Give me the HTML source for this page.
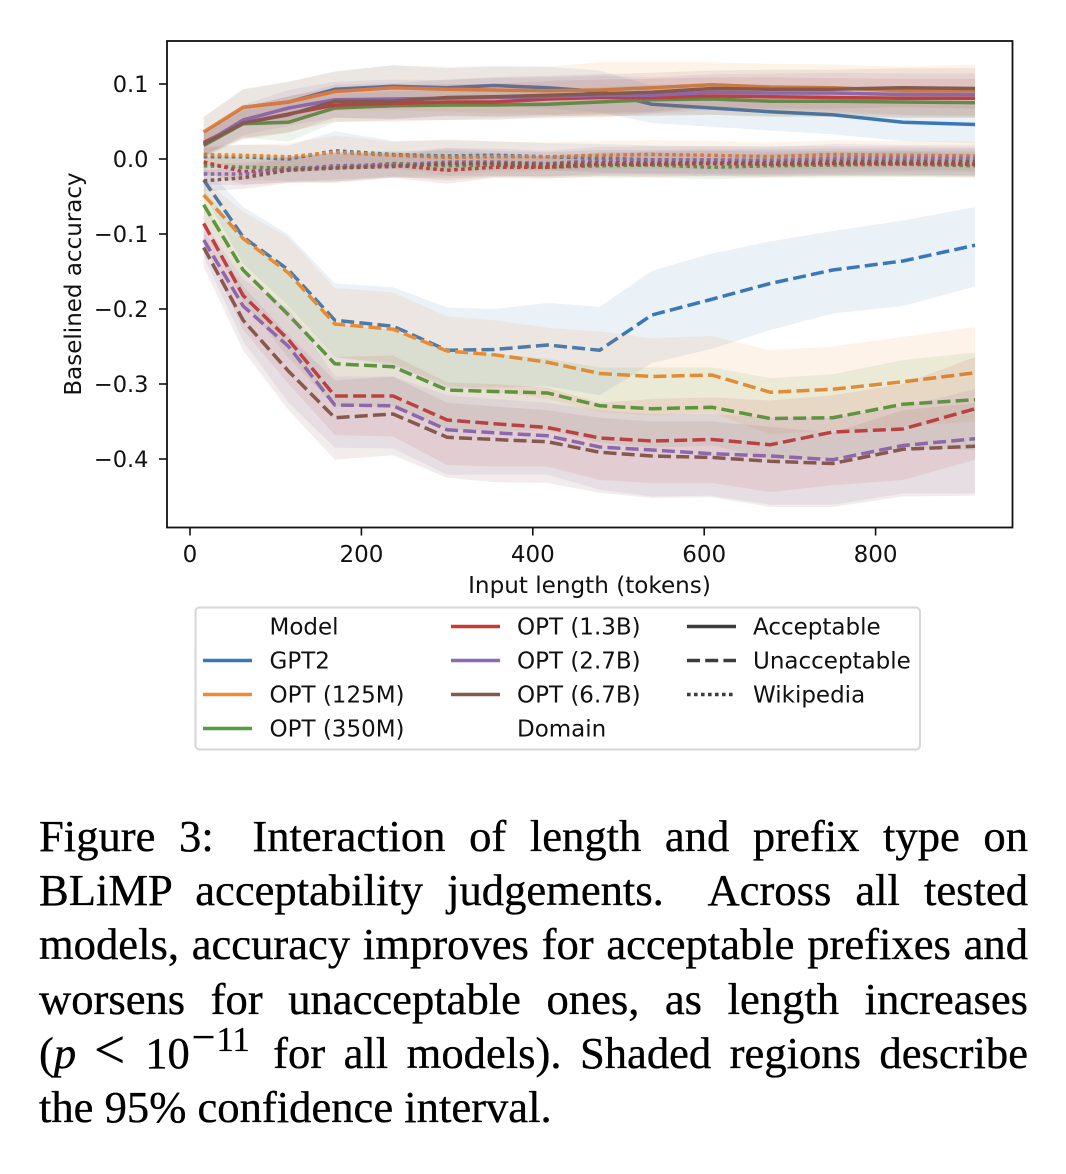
<!DOCTYPE html>
<html lang="en">
<head>
<meta charset="utf-8">
<title>Figure 3</title>
<style>
html,body{margin:0;padding:0;background:#fff;}
#page{position:relative;width:1066px;height:1174px;overflow:hidden;background:#fff;}
#chart{position:absolute;left:0;top:0;}
svg text{font-family:"DejaVu Sans","Liberation Sans",sans-serif;fill:#111;}
.cap{position:absolute;left:39px;width:989px;height:54px;line-height:54.2px;font-family:"Liberation Serif",serif;font-size:44.6px;color:#000;-webkit-text-stroke:0.35px #000;white-space:nowrap;text-align:justify;text-align-last:justify;}
.cap.last{text-align:left;text-align-last:left;}
.cap sup{font-size:34.5px;line-height:0;vertical-align:baseline;position:relative;top:-17px;margin-left:2px;margin-right:5px;}
.cap .minus{font-size:42px;letter-spacing:1px;}
.cap .lt{font-size:55px;line-height:0;margin:0 20px 0 18px;}
.cap .gap{display:inline-block;height:1px;}
</style>
</head>
<body>
<div id="page">
<svg id="chart" width="1066" height="790" viewBox="0 0 1066 790"></svg>
<div>
<div class="cap" style="top:809px">Figure 3:<span class="gap" style="width:15px"></span> Interaction of length and prefix type on</div>
<div class="cap" style="top:863.2px">BLiMP acceptability judgements.<span class="gap" style="width:22px"></span> Across all tested</div>
<div class="cap" style="top:917.4px">models, accuracy improves for acceptable prefixes and</div>
<div class="cap" style="top:971.6px">worsens for unacceptable ones, as length increases</div>
<div class="cap" style="top:1025.8px">(<i>p</i><span class="lt">&lt;</span>10<sup><span class="minus">&minus;</span>11</sup> for all models). Shaded regions describe</div>
<div class="cap last" style="top:1080px">the 95% confidence interval.</div>
</div>
</div>
<script>
const inputLengths = [16,62,115,169,237,300,355,417,478,539,609,677,750,832,916];
const xTickValues = [0,200,400,600,800];
const yTickValues = [0.1,0,-0.1,-0.2,-0.3,-0.4];
const yTickLabels = ['0.1','0.0','\u22120.1','\u22120.2','\u22120.3','\u22120.4'];
const xTickLabels = ['0','200','400','600','800'];
const modelNames = ['GPT2','OPT (125M)','OPT (350M)','OPT (1.3B)','OPT (2.7B)','OPT (6.7B)'];
const modelColors = ['#3a78b5','#f28a33','#50a03e','#c93a33','#9068b8','#85594d'];

const acceptGpt2 = [.036,.069,.076,.093,.097,.095,.098,.095,.090,.073,.068,.063,.059,.049,.046];
const acceptOpt125 = [.036,.069,.076,.090,.095,.093,.092,.091,.092,.095,.099,.096,.095,.091,.091];
const acceptOpt350 = [.018,.047,.049,.068,.071,.072,.072,.073,.076,.079,.080,.077,.077,.076,.075];
const acceptOpt13 = [.022,.048,.060,.072,.074,.076,.076,.080,.082,.082,.084,.083,.082,.081,.081];
const acceptOpt27 = [.020,.052,.068,.079,.080,.081,.082,.083,.085,.085,.089,.088,.088,.086,.086];
const acceptOpt67 = [.020,.048,.059,.077,.077,.082,.083,.085,.087,.089,.094,.093,.093,.095,.094];

const acceptCiGpt2 = [.020,.024,.027,.024,.028,.026,.026,.028,.028,.025,.025,.025,.026,.025,.025];
const acceptCiOpt125 = [.020,.024,.027,.026,.030,.030,.031,.032,.037,.034,.030,.031,.031,.032,.035];
const acceptCiOpt350 = [.015,.018,.026,.019,.019,.020,.018,.019,.020,.020,.021,.021,.020,.021,.020];
const acceptCiOpt13 = [.016,.020,.024,.022,.024,.024,.024,.024,.024,.025,.025,.026,.026,.026,.026];
const acceptCiOpt27 = [.017,.020,.024,.024,.026,.024,.026,.026,.026,.024,.024,.026,.027,.028,.028];
const acceptCiOpt67 = [.017,.022,.024,.022,.024,.024,.026,.026,.026,.026,.024,.026,.026,.026,.027];

const unacceptGpt2 = [-.028,-.104,-.148,-.215,-.223,-.255,-.254,-.248,-.255,-.208,-.187,-.166,-.148,-.136,-.115];
const unacceptOpt125 = [-.048,-.106,-.152,-.220,-.227,-.256,-.261,-.271,-.286,-.290,-.288,-.311,-.307,-.297,-.285];
const unacceptOpt350 = [-.061,-.148,-.208,-.273,-.277,-.308,-.310,-.312,-.329,-.333,-.331,-.346,-.345,-.327,-.321];
const unacceptOpt13 = [-.086,-.182,-.241,-.316,-.316,-.348,-.353,-.358,-.372,-.376,-.374,-.381,-.364,-.360,-.333];
const unacceptOpt27 = [-.108,-.196,-.250,-.328,-.329,-.361,-.365,-.369,-.384,-.388,-.393,-.396,-.401,-.382,-.373];
const unacceptOpt67 = [-.118,-.215,-.283,-.345,-.340,-.371,-.374,-.377,-.391,-.396,-.398,-.403,-.406,-.387,-.383];

const unacceptHiGpt2 = [-.010,-.064,-.101,-.166,-.171,-.198,-.200,-.192,-.197,-.149,-.126,-.110,-.096,-.082,-.064];
const unacceptLoGpt2 = [-.047,-.140,-.196,-.264,-.275,-.305,-.305,-.303,-.315,-.272,-.253,-.228,-.206,-.196,-.170];
const unacceptHiOpt125 = [-.028,-.070,-.105,-.172,-.178,-.210,-.215,-.225,-.230,-.239,-.236,-.255,-.250,-.237,-.224];
const unacceptLoOpt125 = [-.068,-.145,-.200,-.264,-.272,-.302,-.310,-.320,-.337,-.342,-.338,-.367,-.362,-.357,-.350];
const unacceptHiOpt350 = [-.040,-.106,-.152,-.220,-.228,-.256,-.260,-.266,-.278,-.278,-.278,-.292,-.287,-.268,-.258];
const unacceptLoOpt350 = [-.085,-.190,-.265,-.330,-.330,-.360,-.362,-.362,-.378,-.385,-.382,-.400,-.400,-.385,-.388];
const unacceptHiOpt13 = [-.060,-.145,-.200,-.264,-.262,-.298,-.300,-.305,-.325,-.320,-.318,-.322,-.315,-.300,-.264];
const unacceptLoOpt13 = [-.112,-.228,-.300,-.368,-.370,-.408,-.410,-.410,-.428,-.432,-.432,-.444,-.435,-.428,-.401];
const unacceptHiOpt27 = [-.085,-.160,-.200,-.290,-.290,-.315,-.320,-.325,-.335,-.340,-.340,-.345,-.345,-.330,-.307];
const unacceptLoOpt27 = [-.130,-.243,-.325,-.385,-.386,-.421,-.421,-.421,-.441,-.450,-.449,-.461,-.461,-.446,-.446];
const unacceptHiOpt67 = [-.095,-.170,-.235,-.295,-.290,-.325,-.330,-.335,-.345,-.350,-.350,-.357,-.365,-.335,-.325];
const unacceptLoOpt67 = [-.144,-.255,-.335,-.401,-.395,-.425,-.431,-.432,-.445,-.452,-.451,-.464,-.464,-.450,-.449];

const wikiGpt2 = [.003,.003,.000,.011,.006,.004,.005,.003,.001,-.001,-.002,-.002,-.002,-.002,-.003];
const wikiOpt125 = [.006,.005,.003,.009,.005,.002,.003,.003,.005,.006,.005,.003,.006,.005,.004];
const wikiOpt350 = [-.009,-.011,-.012,-.011,-.006,-.009,-.008,-.011,-.009,-.008,-.011,-.009,-.008,-.007,-.009];
const wikiOpt13 = [-.004,-.017,-.014,-.012,-.008,-.015,-.011,-.011,-.007,-.007,-.006,-.007,-.006,-.006,-.007];
const wikiOpt27 = [-.020,-.020,-.014,-.009,-.008,-.004,-.004,-.006,-.002,-.001,-.001,-.002,.001,.001,.001];
const wikiOpt67 = [-.029,-.025,-.015,-.012,-.010,-.006,-.006,-.007,-.005,-.005,-.005,-.005,-.004,-.004,-.004];

const wikiCiGpt2 = [.012,.016,.018,.026,.018,.021,.019,.018,.019,.019,.019,.019,.019,.019,.019];
const wikiCiOpt125 = [.012,.014,.018,.022,.018,.024,.020,.019,.019,.019,.019,.019,.019,.019,.019];
const wikiCiOpt350 = [.012,.017,.017,.019,.017,.020,.016,.014,.016,.017,.016,.016,.017,.017,.016];
const wikiCiOpt13 = [.014,.017,.017,.018,.017,.018,.014,.015,.016,.017,.017,.017,.017,.017,.017];
const wikiCiOpt27 = [.014,.015,.017,.018,.016,.019,.018,.017,.018,.018,.018,.018,.019,.018,.018];
const wikiCiOpt67 = [.014,.015,.017,.020,.015,.020,.017,.016,.017,.017,.018,.018,.018,.018,.018];

const legendStyles = ['Acceptable','Unacceptable','Wikipedia'];

const SVG_NS = 'http://www.w3.org/2000/svg';
const chart = document.getElementById('chart');
const frame = {left:167, right:1012.5, top:41, bottom:527.5};
const DASHED = '13 5.2';
const DOTTED = '3.6 3.4';

function xScale(v){ return 190 + v * 0.857; }
function yScale(v){ return 159 - v * 750; }
function make(tag, attrs, parent){
  const el = document.createElementNS(SVG_NS, tag);
  for (const k in attrs) el.setAttribute(k, attrs[k]);
  (parent || chart).appendChild(el);
  return el;
}
function lineD(values){
  return values.map((v,i)=>(i?'L':'M')+xScale(inputLengths[i]).toFixed(2)+' '+yScale(v).toFixed(2)).join('');
}
function bandD(lo, hi){
  let d = lineD(hi);
  for (let i = lo.length-1; i >= 0; i--) d += 'L'+xScale(inputLengths[i]).toFixed(2)+' '+yScale(lo[i]).toFixed(2);
  return d+'Z';
}
function offsetBy(values, ci, sign){ return values.map((v,i)=>v + sign*ci[i]); }

const acceptMeans = [acceptGpt2,acceptOpt125,acceptOpt350,acceptOpt13,acceptOpt27,acceptOpt67];
const acceptCis = [acceptCiGpt2,acceptCiOpt125,acceptCiOpt350,acceptCiOpt13,acceptCiOpt27,acceptCiOpt67];
const unacceptMeans = [unacceptGpt2,unacceptOpt125,unacceptOpt350,unacceptOpt13,unacceptOpt27,unacceptOpt67];
const unacceptHis = [unacceptHiGpt2,unacceptHiOpt125,unacceptHiOpt350,unacceptHiOpt13,unacceptHiOpt27,unacceptHiOpt67];
const unacceptLos = [unacceptLoGpt2,unacceptLoOpt125,unacceptLoOpt350,unacceptLoOpt13,unacceptLoOpt27,unacceptLoOpt67];
const wikiMeans = [wikiGpt2,wikiOpt125,wikiOpt350,wikiOpt13,wikiOpt27,wikiOpt67];
const wikiCis = [wikiCiGpt2,wikiCiOpt125,wikiCiOpt350,wikiCiOpt13,wikiCiOpt27,wikiCiOpt67];

function drawSeries(modelIndex, domain, values, lo, hi, dash){
  const color = modelColors[modelIndex];
  const key = modelNames[modelIndex].toLowerCase().replace(/[^a-z0-9]+/g,'-').replace(/-$/,'');
  const band = make('path',{d:bandD(lo,hi),fill:color,'fill-opacity':0.105,stroke:'none'});
  
  
  const line = make('path',{d:lineD(values),fill:'none',stroke:color,'stroke-width':3.5,'stroke-linejoin':'round','stroke-linecap':'butt'});
  if (dash) line.setAttribute('stroke-dasharray', dash);
  
  
}
for (let m = 0; m < modelNames.length; m++){
  drawSeries(m,'acceptable',acceptMeans[m],offsetBy(acceptMeans[m],acceptCis[m],-1),offsetBy(acceptMeans[m],acceptCis[m],1),null);
  drawSeries(m,'unacceptable',unacceptMeans[m],unacceptLos[m],unacceptHis[m],DASHED);
  drawSeries(m,'wikipedia',wikiMeans[m],offsetBy(wikiMeans[m],wikiCis[m],-1),offsetBy(wikiMeans[m],wikiCis[m],1),DOTTED);
}

const plotFrame = make('rect',{x:frame.left,y:frame.top,width:frame.right-frame.left,height:frame.bottom-frame.top,fill:'none',stroke:'#111','stroke-width':1.8});



xTickValues.forEach((v,i)=>{
  const x = xScale(v);
  const tick = make('line',{x1:x,x2:x,y1:frame.bottom,y2:frame.bottom+8,stroke:'#111','stroke-width':1.6});
  
  
  const label = make('text',{x:x,y:562,'text-anchor':'middle','font-size':23});
  label.textContent = xTickLabels[i];
  
  
});
yTickValues.forEach((v,i)=>{
  const y = yScale(v);
  const tick = make('line',{x1:frame.left-8,x2:frame.left,y1:y,y2:y,stroke:'#111','stroke-width':1.6});
  
  
  const label = make('text',{x:148.5,y:y+8,'text-anchor':'end','font-size':22.5});
  label.textContent = yTickLabels[i];
  
  
});

const xTitle = make('text',{x:589.5,y:593,'text-anchor':'middle','font-size':23.1});
xTitle.textContent = 'Input length (tokens)';


const yTitle = make('text',{x:0,y:0,'text-anchor':'middle','font-size':23,transform:'translate(81 284) rotate(-90)'});
yTitle.textContent = 'Baselined accuracy';



const legend = make('g',{});


const legendBox = make('rect',{x:195.5,y:607.5,width:724.5,height:142,rx:4,ry:4,fill:'#fff','fill-opacity':0.8,stroke:'#d6d6d6','stroke-width':2},legend);



const legendRows = [626.5,660.5,694.5,728.5];
function legendText(str, x, rowY){
  const t = make('text',{x:x,y:rowY+8,'font-size':23},legend);
  t.textContent = str;
  
  
}
function legendHandle(x1, rowY, color, dash, name){
  const h = make('line',{x1:x1,x2:x1+49,y1:rowY,y2:rowY,stroke:color,'stroke-width':3.4});
  legend.appendChild(h);
  if (dash) h.setAttribute('stroke-dasharray', dash);
  
  
}
legendText('Model',269.5,legendRows[0]);
[0,1,2].forEach(i=>{
  legendHandle(203,legendRows[i+1],modelColors[i],null,'model-'+i);
  legendText(modelNames[i],269.5,legendRows[i+1]);
});
[3,4,5].forEach(i=>{
  legendHandle(451,legendRows[i-3],modelColors[i],null,'model-'+i);
  legendText(modelNames[i],517,legendRows[i-3]);
});
legendText('Domain',517,legendRows[3]);
legendHandle(687,legendRows[0],'#3c3c3c',null,'acceptable');
legendHandle(687,legendRows[1],'#3c3c3c','13 5.2','unacceptable');
legendHandle(687,legendRows[2],'#3c3c3c','3.6 3.4','wikipedia');
legendStyles.forEach((s,i)=>legendText(s,753,legendRows[i]));
</script>
</body>
</html>
